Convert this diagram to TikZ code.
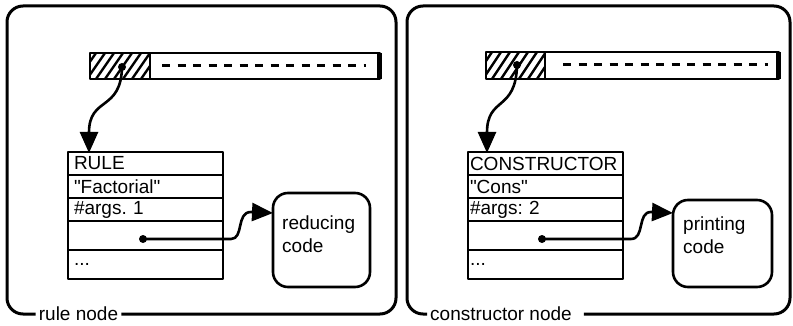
\documentclass[tikz,border=0pt]{standalone}
\usepackage{fontspec}
\setmainfont{Liberation Sans}[Ligatures=TeXOff]
\usetikzlibrary{arrows.meta}
\frenchspacing
\begin{document}
\begin{tikzpicture}[x=1pt,y=-1pt,line join=round,
  every node/.style={font=\fontsize{19}{23}\selectfont},
  frame/.style={line width=3pt,rounded corners=16pt},
  lbl/.style={inner xsep=3pt,inner ysep=0pt},
  recrow/.style={draw,line width=2.6pt,anchor=north west,minimum height=#1,
    inner ysep=0pt,outer sep=0pt,align=left},
  leftrec/.style={text width=143pt,inner xsep=6pt},
  rightrec/.style={text width=151pt,inner xsep=2pt},
  codebox/.style={draw,line width=2.6pt,rounded corners=15pt,anchor=north west,outer sep=0pt},
  codetext/.style={anchor=north west,align=left,inner sep=0pt},
  barline/.style={line width=2.8pt},
  hatch/.style={line width=2.4pt},
  dashline/.style={line width=3pt,dash pattern=on 8pt off 7.5pt},
  ptr/.style={line width=2.6pt,-{Triangle[length=21pt,width=18pt]}},
  ptrdot/.style={fill=black}
]
\useasboundingbox (0,0) rectangle (793,326);

% ---------------- rule node ----------------
\node[lbl] (lb1) at (78.5,314) {rule node};
\draw[frame] (lb1.east) -- (396,314) -- (396,6) -- (7,6) -- (7,314) -- (lb1.west);

% heap cell bar
\begin{scope}
  \clip (90,53) rectangle (150,79);
  \foreach \i in {-30,-21,...,160} \draw[hatch] (\i,79) -- (\i+18,53);
\end{scope}
\draw[barline] (90,53) rectangle (380,79);
\draw[barline] (150,53) -- (150,79);
\draw[line width=5pt] (379,53) -- (379,79);
\draw[dashline] (162,66) -- (366,66);

% descriptor record
\node[recrow=23,leftrec] (r1) at (68,152) {RULE};
\node[recrow=23,leftrec] (r2) at (r1.south west) {"Factorial"};
\node[recrow=23,leftrec] (r3) at (r2.south west) {\#args. 1};
\node[recrow=29,leftrec] (r4) at (r3.south west) {};
\node[recrow=29,leftrec] (r5) at (r4.south west) {...};

% code block
\node[codebox,minimum width=97pt,minimum height=94pt] (c1) at (273,193) {};
\node[codetext] (c1t) at (282,216) {reducing\\code};

% pointers
\coordinate (p1) at (122,67);
\coordinate (t1) at (89,153);
\fill[ptrdot] (p1) circle (4pt);
\draw[ptr] (p1) .. controls (121,112) and (89,96) .. (t1);
\coordinate (p2) at (143,239);
\fill[ptrdot] (p2) circle (4pt);
\draw[ptr] (p2) -- (231,239) .. controls (244,239) and (236,212) .. (251,212)
  -- ([yshift=27pt]c1.west);

% ---------------- constructor node ----------------
\node[lbl] (lb2) at (501,314) {constructor node};
\draw[frame] ([xshift=9pt]lb2.east) -- (790,314) -- (790,6) -- (407,6) -- (407,314) -- (lb2.west);

\begin{scope}
  \clip (486,52) rectangle (545,79);
  \foreach \i in {456,465,...,560} \draw[hatch] (\i,79) -- (\i+18,52);
\end{scope}
\draw[barline] (486,52) rectangle (779,79);
\draw[barline] (545,52) -- (545,79);
\draw[line width=5pt] (778,52) -- (778,79);
\draw[dashline] (563,65) -- (768,65);

\node[recrow=23,rightrec] (s1) at (468,152) {CONSTRUCTOR};
\node[recrow=23,rightrec] (s2) at (s1.south west) {"Cons"};
\node[recrow=23,rightrec] (s3) at (s2.south west) {\#args: 2};
\node[recrow=29,rightrec] (s4) at (s3.south west) {};
\node[recrow=29,rightrec] (s5) at (s4.south west) {...};

\node[codebox,minimum width=99pt,minimum height=87pt] (c2) at (673,200) {};
\node[codetext] (c2t) at (683,217) {printing\\code};

\coordinate (p3) at (517,65);
\coordinate (t3) at (487,153);
\fill[ptrdot] (p3) circle (4pt);
\draw[ptr] (p3) .. controls (516,112) and (487,96) .. (t3);
\coordinate (p4) at (542,239);
\fill[ptrdot] (p4) circle (4pt);
\draw[ptr] (p4) -- (631,239) .. controls (645,239) and (637,212) .. (651,212)
  -- ([yshift=30.5pt]c2.west);
\end{tikzpicture}
\end{document}
